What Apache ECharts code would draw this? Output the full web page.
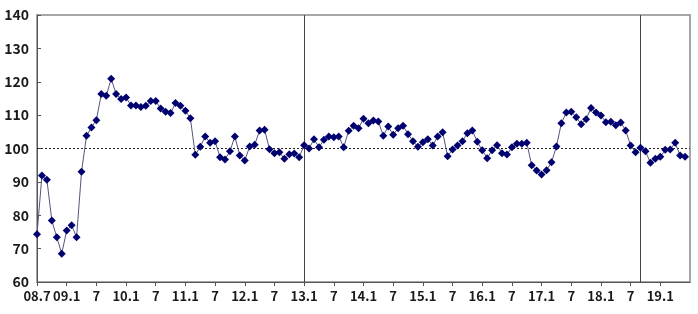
<!DOCTYPE html>
<html>
<head>
<meta charset="utf-8">
<script src="https://cdn.jsdelivr.net/npm/echarts@6/dist/echarts.min.js"></script>
<style>
html,body{margin:0;padding:0;background:#fff;}
#chart{width:698px;height:314px;}
</style>
</head>
<body>
<div id="chart"></div>
<script>
// Monthly categories: 2008.7 .. 2019.7 (last one only extends the axis)
const startYear = 2008, startMonth = 7, monthCount = 133;
const categories = [];
for (let i = 0; i < monthCount; i++) {
  const m = startMonth - 1 + i;
  categories.push((startYear + Math.floor(m / 12)) + '.' + (m % 12 + 1));
}

// Tick labels, one every 6 months starting at 2008.7
const tickLabels = ['08.7','09.1','7','10.1','7','11.1','7','12.1','7','13.1','7',
  '14.1','7','15.1','7','16.1','7','17.1','7','18.1','7','19.1'];

// Index values, 2008.7 .. 2019.6
const values = [
  74.3, 91.9, 90.6, 78.4, 73.4, 68.5,            // 2008.7-12
  75.4, 77.0, 73.4, 93.0, 103.8, 106.3, 108.5, 116.3, 115.8, 120.9, 116.3, 114.8, // 2009
  115.3, 112.9, 112.9, 112.4, 112.8, 114.2, 114.2, 112.0, 111.0, 110.6, 113.6, 112.8, // 2010
  111.3, 109.1, 98.1, 100.5, 103.6, 101.7, 102.2, 97.4, 96.7, 99.2, 103.6, 97.9, // 2011
  96.4, 100.6, 101.1, 105.4, 105.6, 99.8, 98.6, 98.9, 96.9, 98.3, 98.5, 97.4,   // 2012
  101.0, 100.0, 102.8, 100.4, 102.6, 103.6, 103.4, 103.6, 100.4, 105.3, 106.8, 106.1, // 2013
  108.9, 107.6, 108.4, 108.1, 103.8, 106.6, 104.1, 106.1, 106.8, 104.3, 102.2, 100.5, // 2014
  101.9, 102.8, 100.9, 103.6, 104.9, 97.7, 99.7, 100.9, 102.2, 104.6, 105.4, 102.0,   // 2015
  99.5, 97.1, 99.5, 101.0, 98.6, 98.2, 100.4, 101.4, 101.4, 101.7, 95.0, 93.4,        // 2016
  92.2, 93.5, 95.9, 100.6, 107.6, 110.8, 111.0, 109.4, 107.3, 108.8, 112.1, 110.8,    // 2017
  109.9, 107.9, 108.0, 107.0, 107.8, 105.4, 100.9, 98.9, 100.2, 99.2, 95.7, 96.9,     // 2018
  97.5, 99.6, 99.7, 101.7, 97.9, 97.5                                                   // 2019.1-6
];

const referenceLevel = [100];
const dividerMonths = ['2013.1', '2018.9'];

const chart = echarts.init(document.getElementById('chart'), null, {renderer: 'canvas'});
const labelFont = {fontFamily: '"Noto Sans CJK KR", "Liberation Sans", sans-serif', fontWeight: 'bold', color: '#1a1a1a'};

chart.setOption({
  animation: false,
  backgroundColor: '#ffffff',
  grid: {left: 37, right: 8, top: 15, bottom: 32, show: true, borderColor: '#8a8a8a', borderWidth: 1.5, backgroundColor: 'transparent'},
  xAxis: {
    type: 'category',
    data: categories,
    boundaryGap: false,
    axisLine: {lineStyle: {color: '#555', width: 1}},
    axisTick: {show: true, inside: false, length: 4, interval: (i) => i % 6 === 0 && i < 132, lineStyle: {color: '#555'}},
    axisLabel: Object.assign({
      fontSize: 13, margin: 8,
      interval: (i) => i % 6 === 0 && i < 132,
      formatter: (v, i) => (i % 6 === 0 && tickLabels[i / 6] !== undefined) ? tickLabels[i / 6] : ''
    }, labelFont),
    splitLine: {show: false}
  },
  yAxis: {
    type: 'value',
    min: 60, max: 140, interval: 10,
    axisLine: {show: true, lineStyle: {color: '#555', width: 1}},
    axisTick: {show: true, inside: true, length: 4, lineStyle: {color: '#555'}},
    axisLabel: Object.assign({fontSize: 14, margin: 8}, labelFont),
    splitLine: {show: false}
  },
  series: [{
    type: 'line',
    data: values,
    symbol: 'diamond',
    symbolSize: 8,
    showAllSymbol: true,
    itemStyle: {color: '#00006e'},
    lineStyle: {color: '#55557f', width: 1},
    z: 3,
    markLine: {
      silent: true,
      symbol: ['none', 'none'],
      label: {show: false},
      z: 1,
      data: [
        {yAxis: referenceLevel[0], lineStyle: {color: '#222', width: 1, type: [2, 2]}},
        {xAxis: dividerMonths[0], lineStyle: {color: '#444', width: 1, type: 'solid'}},
        {xAxis: dividerMonths[1], lineStyle: {color: '#444', width: 1, type: 'solid'}}
      ]
    }
  }]
});
</script>
</body>
</html>
